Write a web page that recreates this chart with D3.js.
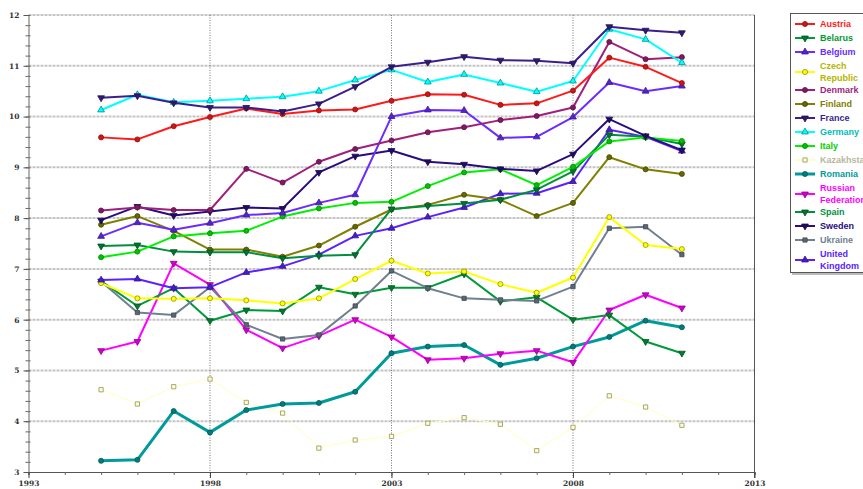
<!DOCTYPE html>
<html>
<head>
<meta charset="utf-8">
<script src="https://cdn.jsdelivr.net/npm/d3@7"></script>
<style>
  body { margin: 0; background: #fff; overflow: hidden; }
  svg { display: block; }
  .tick text { font-family: "DejaVu Serif", serif; font-weight: bold; font-size: 7.5px; fill: #333; }
</style>
</head>
<body>
<svg></svg>
<script>
// alcohol consumption by country, 1995-2011
let width = 863,
    height = 489;

let years = [1995, 1996, 1997, 1998, 1999, 2000, 2001, 2002, 2003, 2004, 2005, 2006, 2007, 2008, 2009, 2010, 2011];

let austria    = [9.59, 9.55, 9.81, 9.99, 10.16, 10.05, 10.12, 10.14, 10.31, 10.44, 10.43, 10.23, 10.26, 10.51, 11.16, 10.98, 10.66];
let belarus    = [6.76, 6.27, 6.62, 5.98, 6.19, 6.17, 6.64, 6.50, 6.63, 6.63, 6.90, 6.36, 6.44, 6.00, 6.09, 5.57, 5.34];
let belgium    = [7.64, 7.91, 7.77, 7.90, 8.06, 8.10, 8.30, 8.46, 10.00, 10.13, 10.12, 9.58, 9.60, 9.99, 10.67, 10.50, 10.60];
let czech      = [6.72, 6.42, 6.41, 6.42, 6.38, 6.32, 6.42, 6.80, 7.16, 6.91, 6.95, 6.70, 6.53, 6.83, 8.02, 7.47, 7.39];
let denmark    = [8.15, 8.21, 8.16, 8.16, 8.97, 8.70, 9.11, 9.36, 9.53, 9.69, 9.79, 9.93, 10.01, 10.18, 11.47, 11.13, 11.17];
let finland    = [7.87, 8.04, 7.75, 7.38, 7.38, 7.24, 7.46, 7.83, 8.17, 8.26, 8.46, 8.36, 8.04, 8.30, 9.20, 8.96, 8.87];
let france     = [10.37, 10.41, 10.27, 10.18, 10.18, 10.10, 10.25, 10.59, 10.98, 11.07, 11.18, 11.11, 11.10, 11.05, 11.77, 11.70, 11.65];
let germany    = [10.13, 10.43, 10.28, 10.31, 10.35, 10.39, 10.50, 10.72, 10.92, 10.68, 10.83, 10.66, 10.49, 10.70, 11.72, 11.52, 11.06];
let italy      = [7.23, 7.34, 7.64, 7.70, 7.75, 8.03, 8.19, 8.30, 8.32, 8.63, 8.90, 8.96, 8.65, 9.01, 9.51, 9.59, 9.52];
let kazakhstan = [4.62, 4.34, 4.68, 4.83, 4.37, 4.16, 3.47, 3.63, 3.70, 3.96, 4.07, 3.94, 3.42, 3.88, 4.50, 4.28, 3.92];
let romania    = [3.22, 3.24, 4.20, 3.78, 4.22, 4.34, 4.36, 4.58, 5.34, 5.47, 5.50, 5.11, 5.24, 5.47, 5.66, 5.98, 5.85];
let russia     = [5.39, 5.57, 7.11, 6.69, 5.80, 5.44, 5.68, 6.00, 5.66, 5.21, 5.24, 5.33, 5.39, 5.16, 6.19, 6.49, 6.23];
let spain      = [7.45, 7.47, 7.34, 7.33, 7.33, 7.21, 7.26, 7.28, 8.18, 8.24, 8.29, 8.36, 8.56, 8.92, 9.64, 9.60, 9.46];
let sweden     = [7.96, 8.23, 8.05, 8.13, 8.21, 8.19, 8.90, 9.22, 9.33, 9.11, 9.06, 8.97, 8.93, 9.26, 9.95, 9.62, 9.34];
let ukraine    = [6.75, 6.14, 6.09, 6.64, 5.90, 5.62, 5.70, 6.27, 6.96, 6.62, 6.42, 6.39, 6.37, 6.65, 7.80, 7.83, 7.28];
let uk         = [6.78, 6.80, 6.62, 6.64, 6.93, 7.05, 7.28, 7.65, 7.80, 8.02, 8.21, 8.48, 8.49, 8.72, 9.74, 9.60, 9.32];

let names = ["Austria", "Belarus", "Belgium", "Czech Republic", "Denmark", "Finland", "France", "Germany",
             "Italy", "Kazakhstan", "Romania", "Russian Federation", "Spain", "Sweden", "Ukraine", "United Kingdom"];
let values = [austria, belarus, belgium, czech, denmark, finland, france, germany,
              italy, kazakhstan, romania, russia, spain, sweden, ukraine, uk];

let xTicks = [1993, 1998, 2003, 2008, 2013];
let yTicks = [3, 4, 5, 6, 7, 8, 9, 10, 11, 12];

// styles per series (line colour, legend text colour, marker, line width)
let styles = {
    "Austria":            { c: "#ff1a1a", t: "#ff1a1a", m: d3.symbolCircle,   w: 2 },
    "Belarus":            { c: "#00993a", t: "#009933", m: d3.symbolTriangle, w: 2, down: true },
    "Belgium":            { c: "#6a2cff", t: "#6a2cff", m: d3.symbolTriangle, w: 2 },
    "Czech Republic":     { c: "#ffff00", t: "#b5b500", m: d3.symbolCircle,   w: 2, hollow: true },
    "Denmark":            { c: "#a01e7c", t: "#a01e7c", m: d3.symbolCircle,   w: 2 },
    "Finland":            { c: "#7f7f00", t: "#7f7f00", m: d3.symbolCircle,   w: 2 },
    "France":             { c: "#3b1f8c", t: "#3b1f8c", m: d3.symbolTriangle, w: 2, down: true },
    "Germany":            { c: "#00ffff", t: "#00bcbc", m: d3.symbolTriangle, w: 2, hollow: true },
    "Italy":              { c: "#00f000", t: "#00d000", m: d3.symbolCircle,   w: 2 },
    "Kazakhstan":         { c: "#ffffc0", t: "#b8b8a0", m: d3.symbolSquare,   w: 1, hollow: true },
    "Romania":            { c: "#009a9a", t: "#009a9a", m: d3.symbolCircle,   w: 3 },
    "Russian Federation": { c: "#ff00ff", t: "#ff00ff", m: d3.symbolTriangle, w: 2, down: true },
    "Spain":              { c: "#008f3c", t: "#008f3c", m: d3.symbolTriangle, w: 2, down: true },
    "Sweden":             { c: "#2a0c7e", t: "#2a0c7e", m: d3.symbolTriangle, w: 2, down: true },
    "Ukraine":            { c: "#708090", t: "#708090", m: d3.symbolSquare,   w: 2 },
    "United Kingdom":     { c: "#5a22ff", t: "#5a22ff", m: d3.symbolTriangle, w: 2 }
};

let svg = d3.select("svg")
    .attr("width", width)
    .attr("height", height);

let x = d3.scaleLinear().domain([1993, 2013]).range([28.5, 754.5]);
let y = d3.scaleLinear().domain([3, 12]).range([472, 15]);

// horizontal grid
svg.append("g")
    .selectAll("line")
    .data(yTicks.slice(1))
    .enter().append("line")
    .attr("x1", x(1993)).attr("x2", x(2013))
    .attr("y1", d => y(d)).attr("y2", d => y(d))
    .attr("stroke", "#c4c4c4")
    .attr("stroke-width", 2)
    .attr("stroke-dasharray", "3,1");

// vertical grid
svg.append("g")
    .selectAll("line")
    .data(xTicks.slice(1, -1))
    .enter().append("line")
    .attr("x1", d => x(d)).attr("x2", d => x(d))
    .attr("y1", y(12)).attr("y2", y(3) + 6)
    .attr("stroke", "#777")
    .attr("stroke-width", 1)
    .attr("stroke-dasharray", "1,1.5");

svg.append("line")
    .attr("x1", x(2013)).attr("x2", x(2013))
    .attr("y1", y(12)).attr("y2", y(3) + 6)
    .attr("stroke", "#555");

// axes
let minorY = d3.range(30, 121, 2).map(d => d / 10);
let minorX = d3.range(1993, 2014);

svg.append("g")
    .attr("transform", `translate(${x(1993)},0)`)
    .call(d3.axisLeft(y).tickValues(minorY).tickSize(3).tickFormat(""))
    .call(g => g.select(".domain").attr("stroke", "#666"))
    .call(g => g.selectAll(".tick line").attr("stroke", "#666"));
svg.append("g")
    .attr("transform", `translate(${x(1993)},0)`)
    .call(d3.axisRight(y).tickValues(minorY).tickSize(2).tickFormat(""))
    .call(g => g.select(".domain").remove())
    .call(g => g.selectAll(".tick line").attr("stroke", "#666"));
svg.append("g")
    .attr("transform", `translate(${x(1993)},0)`)
    .call(d3.axisLeft(y).tickValues(yTicks).tickSize(5).tickPadding(4).tickFormat(d3.format("d")))
    .call(g => g.select(".domain").remove())
    .call(g => g.selectAll(".tick line").attr("stroke", "#555"));

svg.append("g")
    .attr("transform", `translate(0,${y(3)})`)
    .call(d3.axisBottom(x).tickValues(minorX).tickSize(3).tickFormat(""))
    .call(g => g.select(".domain").attr("stroke", "#555"))
    .call(g => g.selectAll(".tick line").attr("stroke", "#666"));
svg.append("g")
    .attr("transform", `translate(0,${y(3)})`)
    .call(d3.axisBottom(x).tickValues(xTicks).tickSize(6).tickPadding(3).tickFormat(d3.format("d")))
    .call(g => g.select(".domain").remove())
    .call(g => g.selectAll(".tick line").attr("stroke", "#444"));

// series
let line = d3.line()
    .x((d, i) => x(years[i]))
    .y(d => y(d));

function marker(sel, st) {
    sel.attr("d", d3.symbol().type(st.m).size(st.m === d3.symbolSquare ? 18 : 20))
        .attr("fill", st.hollow ? st.c : d3.color(st.c).darker(0.6))
        .attr("stroke", d3.color(st.c).darker(1.6))
        .attr("stroke-width", 0.8);
}

let order = [9, 10, 11, 1, 14, 3, 15, 5, 12, 8, 13, 2, 4, 0, 7, 6];
order.forEach(k => {
    let name = names[k];
    let st = styles[name];
    let g = svg.append("g");
    g.append("path")
        .datum(values[k])
        .attr("d", line)
        .attr("fill", "none")
        .attr("stroke", st.c)
        .attr("stroke-width", st.w)
        .attr("stroke-linejoin", "round");
    g.selectAll("path.pt")
        .data(values[k])
        .enter().append("path")
        .attr("class", "pt")
        .attr("transform", (d, i) => `translate(${x(years[i])},${y(d)})` + (st.down ? " rotate(180)" : ""))
        .call(marker, st);
});

// legend
let legend = svg.append("g").attr("transform", "translate(790,13)");
legend.append("rect")
    .attr("x", 2).attr("y", 2)
    .attr("width", 100).attr("height", 260)
    .attr("fill", "#bbb");
legend.append("rect")
    .attr("x", 0.5).attr("y", 0.5)
    .attr("width", 100).attr("height", 259)
    .attr("fill", "#fff")
    .attr("stroke", "#555");

let ly = 11;
names.forEach((name, k) => {
    let st = styles[name];
    let parts = name.split(" ");
    let two = parts.length > 1;
    let cy = two ? ly + 6 : ly;
    let row = legend.append("g");
    row.append("line")
        .attr("x1", 5).attr("x2", 25)
        .attr("y1", cy).attr("y2", cy)
        .attr("stroke", st.c)
        .attr("stroke-width", Math.max(st.w, 2));
    row.append("path")
        .attr("transform", `translate(15,${cy})` + (st.down ? " rotate(180)" : ""))
        .call(marker, st);
    let t = row.append("text")
        .attr("x", 30)
        .attr("y", ly)
        .attr("dy", "0.35em")
        .attr("fill", st.t)
        .attr("font-family", "Liberation Sans, Arial, sans-serif")
        .attr("font-weight", "bold")
        .attr("font-size", "9px");
    if (two) {
        t.append("tspan").attr("x", 30).text(parts[0]);
        t.append("tspan").attr("x", 30).attr("dy", 12).text(parts.slice(1).join(" "));
        ly += 24;
    } else {
        t.text(name);
        ly += 14;
    }
});
</script>
</body>
</html>
